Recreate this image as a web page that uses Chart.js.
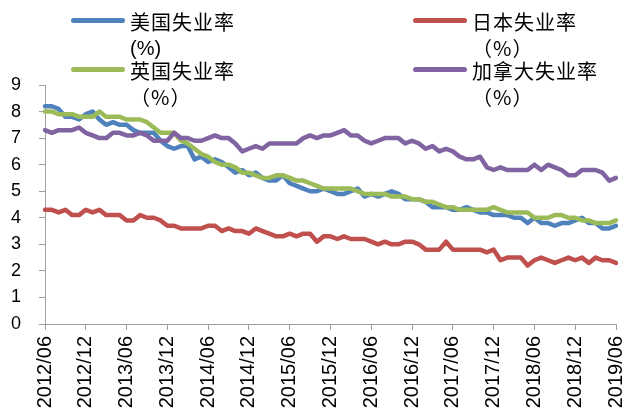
<!DOCTYPE html>
<html>
<head>
<meta charset="utf-8">
<script src="https://cdn.jsdelivr.net/npm/chart.js@4/dist/chart.umd.min.js"></script>
<style>
  html, body { margin: 0; padding: 0; background: #fff; }
  #wrap { position: relative; width: 628px; height: 416px; overflow: hidden; }
  #c { position: absolute; left: 0; top: 0; }
  .key { position: absolute; height: 5px; border-radius: 3px; }
  .txt { position: absolute; font-family: "Noto Sans CJK SC", sans-serif; font-size: 20px;
         letter-spacing: 1px; color: #000; line-height: 26px; white-space: nowrap; }
  .latin { font-family: "Liberation Sans", Arial, sans-serif; letter-spacing: 0; }
</style>
</head>
<body>
<div id="wrap">
  <canvas id="c" width="628" height="416"></canvas>
  <div id="legend"></div>
</div>
<script>
// Monthly categories, 2012/06 .. 2019/06
const months = [];
for (let y = 2012, m = 6; y < 2019 || (y === 2019 && m <= 6); ) {
  months.push(y + '/' + String(m).padStart(2, '0'));
  m++; if (m > 12) { m = 1; y++; }
}

// Labels shown on the category axis (every six months)
const tickLabels = ['2012/06','2012/12','2013/06','2013/12','2014/06','2014/12','2015/06',
  '2015/12','2016/06','2016/12','2017/06','2017/12','2018/06','2018/12','2019/06'];

// Unemployment rates, %
const usRate = [8.2,8.2,8.1,7.8,7.8,7.7,7.9,8.0,7.7,7.5,7.6,7.5,7.5,7.3,7.2,7.2,7.2,6.9,6.7,6.6,
  6.7,6.7,6.2,6.3,6.1,6.2,6.1,5.9,5.7,5.8,5.6,5.7,5.5,5.4,5.4,5.6,5.3,5.2,5.1,5.0,
  5.0,5.1,5.0,4.9,4.9,5.0,5.1,4.8,4.9,4.8,4.9,5.0,4.9,4.7,4.7,4.7,4.6,4.4,4.4,4.4,
  4.3,4.3,4.4,4.3,4.2,4.2,4.1,4.1,4.1,4.0,4.0,3.8,4.0,3.8,3.8,3.7,3.8,3.8,3.9,4.0,
  3.8,3.8,3.6,3.6,3.7];
const jpRate = [4.3,4.3,4.2,4.3,4.1,4.1,4.3,4.2,4.3,4.1,4.1,4.1,3.9,3.9,4.1,4.0,4.0,3.9,3.7,3.7,
  3.6,3.6,3.6,3.6,3.7,3.7,3.5,3.6,3.5,3.5,3.4,3.6,3.5,3.4,3.3,3.3,3.4,3.3,3.4,3.4,
  3.1,3.3,3.3,3.2,3.3,3.2,3.2,3.2,3.1,3.0,3.1,3.0,3.0,3.1,3.1,3.0,2.8,2.8,2.8,3.1,
  2.8,2.8,2.8,2.8,2.8,2.7,2.8,2.4,2.5,2.5,2.5,2.2,2.4,2.5,2.4,2.3,2.4,2.5,2.4,2.5,
  2.3,2.5,2.4,2.4,2.3];
const ukRate = [8.0,8.0,7.9,7.9,7.9,7.8,7.8,7.8,8.0,7.8,7.8,7.8,7.7,7.7,7.7,7.6,7.4,7.2,7.2,7.2,
  6.9,6.8,6.6,6.4,6.3,6.1,6.0,6.0,5.9,5.7,5.7,5.6,5.5,5.5,5.6,5.6,5.5,5.4,5.4,5.3,
  5.2,5.1,5.1,5.1,5.1,5.1,5.0,4.9,4.9,4.9,4.9,4.8,4.8,4.8,4.7,4.7,4.6,4.6,4.5,4.4,
  4.4,4.3,4.3,4.3,4.3,4.3,4.4,4.3,4.2,4.2,4.2,4.2,4.0,4.0,4.0,4.1,4.1,4.0,4.0,3.9,
  3.9,3.8,3.8,3.8,3.9];
const caRate = [7.3,7.2,7.3,7.3,7.3,7.4,7.2,7.1,7.0,7.0,7.2,7.2,7.1,7.1,7.2,7.1,6.9,6.9,6.9,7.2,
  7.0,7.0,6.9,6.9,7.0,7.1,7.0,7.0,6.8,6.5,6.6,6.7,6.6,6.8,6.8,6.8,6.8,6.8,7.0,7.1,
  7.0,7.1,7.1,7.2,7.3,7.1,7.1,6.9,6.8,6.9,7.0,7.0,7.0,6.8,6.9,6.8,6.6,6.7,6.5,6.6,
  6.5,6.3,6.2,6.2,6.3,5.9,5.8,5.9,5.8,5.8,5.8,5.8,6.0,5.8,6.0,5.9,5.8,5.6,5.6,5.8,
  5.8,5.8,5.7,5.4,5.5];

const seriesNames = ['美国失业率', '日本失业率', '英国失业率', '加拿大失业率'];
const seriesUnits = ['(%)', '（%）', '（%）', '（%）'];
const seriesColors = ['#4F81BD', '#C0504D', '#9BBB59', '#8064A2'];
const seriesData = [usRate, jpRate, ukRate, caRate];

// Two-column legend above the plot
const legendPos = [
  { lx: 71, ly: 18, tx: 130, ty: 9 },
  { lx: 413, ly: 18, tx: 472, ty: 9 },
  { lx: 71, ly: 67, tx: 130, ty: 58 },
  { lx: 413, ly: 67, tx: 472, ty: 58 }
];
const legend = document.getElementById('legend');
seriesNames.forEach((name, i) => {
  const p = legendPos[i];
  const key = document.createElement('div');
  key.className = 'key';
  key.style.cssText = `left:${p.lx}px;top:${p.ly}px;width:54px;background:${seriesColors[i]}`;
  legend.appendChild(key);
  const t = document.createElement('div');
  t.className = 'txt';
  t.style.left = p.tx + 'px';
  t.style.top = p.ty + 'px';
  const l1 = document.createElement('div');
  l1.textContent = name;
  const l2 = document.createElement('div');
  l2.textContent = seriesUnits[i];
  if (i === 0) l2.className = 'latin';
  t.appendChild(l1); t.appendChild(l2);
  legend.appendChild(t);
});

const axisGray = '#A0A0A0';
const tickFont = { family: '"Liberation Sans", Arial, sans-serif' };

new Chart(document.getElementById('c'), {
  type: 'line',
  data: {
    labels: months,
    datasets: seriesNames.map((n, i) => ({
      label: n + seriesUnits[i],
      data: seriesData[i],
      borderColor: seriesColors[i],
      backgroundColor: seriesColors[i],
      borderWidth: 4.5,
      pointRadius: 0,
      tension: 0,
      borderJoinStyle: 'round',
      borderCapStyle: 'round',
      order: 4 - i
    }))
  },
  options: {
    responsive: false,
    animation: false,
    layout: { padding: { top: 85, right: 12, left: 0, bottom: 0 } },
    plugins: { legend: { display: false }, tooltip: { enabled: false } },
    scales: {
      x: {
        offset: false,
        border: { color: axisGray, width: 1 },
        grid: {
          drawOnChartArea: false,
          tickLength: 6,
          tickColor: ctx => tickLabels.includes(months[ctx.index]) ? axisGray : 'transparent'
        },
        ticks: {
          autoSkip: false,
          maxRotation: 90,
          minRotation: 90,
          padding: 6,
          color: '#000',
          font: { ...tickFont, size: 20 },
          callback: function (v) {
            const lbl = this.getLabelForValue(v);
            return tickLabels.includes(lbl) ? lbl : '';
          }
        },
        afterFit: s => { s.height = 92; s.paddingLeft = 0; s.paddingRight = 0; }
      },
      y: {
        min: 0,
        max: 9,
        border: { color: axisGray, width: 1 },
        grid: { drawOnChartArea: false, tickLength: 6, tickColor: axisGray },
        ticks: {
          stepSize: 1,
          padding: 18,
          color: '#000',
          font: { ...tickFont, size: 18 }
        },
        afterFit: s => { s.width = 45; s.paddingTop = 0; s.paddingBottom = 0; }
      }
    }
  }
});
</script>
</body>
</html>
